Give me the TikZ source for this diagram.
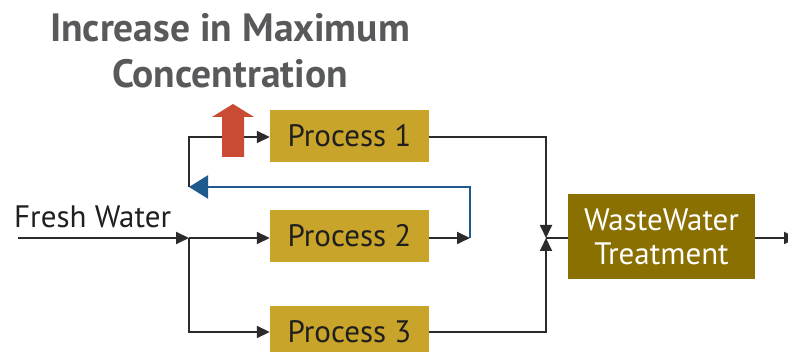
\documentclass[tikz,border=0pt]{standalone}
\usepackage{fontspec}
\setmainfont{PT Sans}
\usetikzlibrary{arrows.meta}
\definecolor{procgold}{HTML}{C9A42B}
\definecolor{treatolive}{HTML}{8A7000}
\definecolor{loopblue}{HTML}{1E5A8E}
\definecolor{risered}{HTML}{C94B33}
\definecolor{titlegray}{HTML}{58595B}
\definecolor{linegray}{HTML}{2B2B2B}
\tikzset{
	proc/.style={fill=procgold, minimum width=159pt, minimum height=52pt, inner sep=0pt, font=\fontsize{31}{32}\selectfont, text=black!88},
	pipe/.style={draw=linegray, line width=1.8pt},
	flow/.style={pipe, -{Triangle[length=13pt,width=12pt]}},
}
\begin{document}
\begin{tikzpicture}[x=1pt, y=-1pt]
			%%%%% START %%%%%
			\useasboundingbox (0, 0) rectangle (788, 352);
			
			\node[font=\bfseries\fontsize{39.5}{46}\selectfont, text=titlegray, align=center] (title) at (230, 51) {Increase in Maximum\\Concentration};
			
			\node[proc] (p1) at (349.5, 136) {Process 1};
			\node[proc] (p2) at (349.5, 236) {Process 2};
			\node[proc] (p3) at (349.5, 332) {Process 3};
			\node[fill=treatolive, text=white, minimum width=187pt, minimum height=85pt, inner sep=0pt, align=center, font=\fontsize{31}{34}\selectfont] (wwt) at (661.5, 236.5) {WasteWater\\Treatment};
			
			\node[anchor=base west, inner sep=0pt, font=\fontsize{31}{32}\selectfont, text=black!88] (fresh) at (14, 228) {Fresh Water};
			
			\coordinate (in) at (18, 238);
			\coordinate (split) at (189, 238);
			\coordinate (back) at (189, 187);
			\coordinate (out2) at (470, 238);
			\coordinate (merge) at (546, 238);
			\coordinate (drain) at (797, 238);
			
			% feed side
			\draw[flow] (in) -- (split);
			\draw[flow] (split) -- (split -| p2.west);
			\draw[flow] (split) |- (p3.west |- 0, 332);
			\draw[flow] (back) |- (p1.west |- 0, 137);
			
			% outlets
			\draw[pipe] (p1.east |- 0, 137) -| (546, 190);
			\draw[flow] (546, 180) -- (merge);
			\draw[pipe] (p3.east |- 0, 332) -| (546, 280);
			\draw[flow] (546, 290) -- (merge);
			\draw[pipe] (merge) -- (wwt.west |- merge);
			\draw[flow] (wwt.east |- merge) -- (drain);
			\draw[flow] (p2.east |- out2) -- (out2);
			
			% recycle
			\draw[draw=loopblue, line width=2.4pt, -{Triangle[length=19pt,width=23pt]}] (out2) |- (back);
			
			% rise marker
			\fill[risered] (222, 157) -- (222, 117) -- (212, 117) -- (233, 104) -- (254, 117) -- (244, 117) -- (244, 157) -- cycle;
			
			%%%%% END %%%%%
		\end{tikzpicture}
\end{document}
